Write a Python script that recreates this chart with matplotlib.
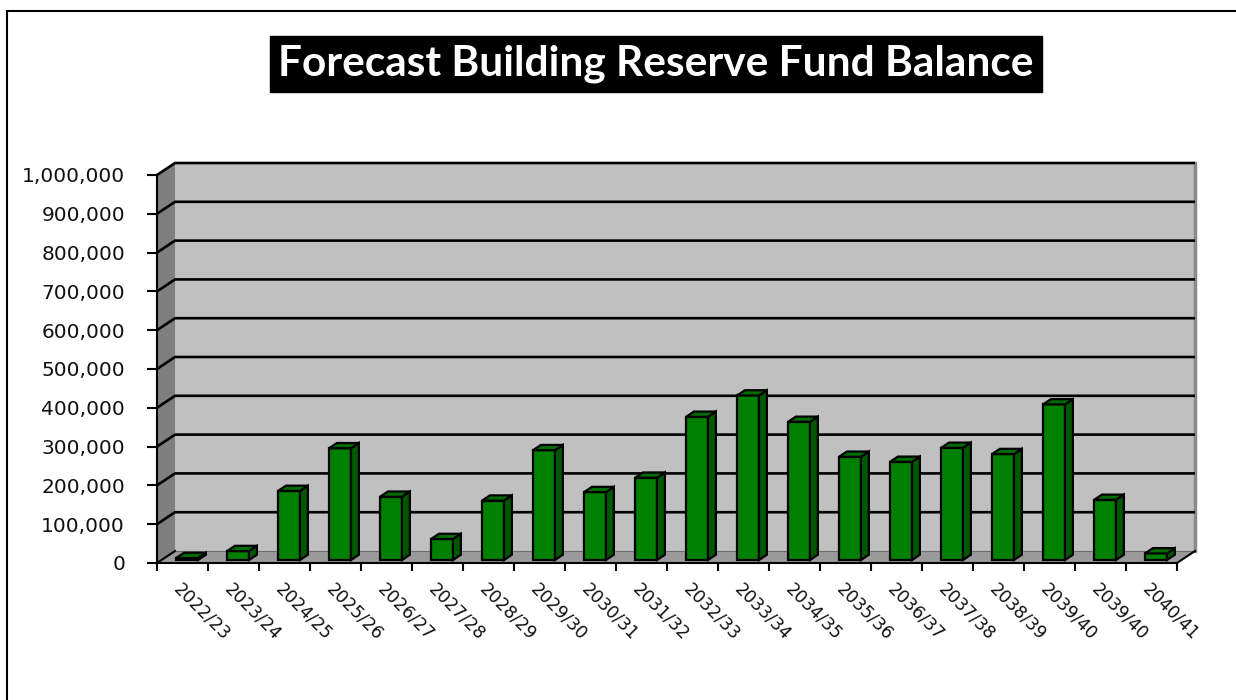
# Forecast building reserve fund balance - 3D style column chart

import matplotlib.pyplot as plt
from matplotlib.patches import Polygon
from matplotlib.lines import Line2D
from matplotlib.ticker import FuncFormatter


anos = [
    "2022/23", "2023/24", "2024/25", "2025/26", "2026/27",
    "2027/28", "2028/29", "2029/30", "2030/31", "2031/32",
    "2032/33", "2033/34", "2034/35", "2035/36", "2036/37",
    "2037/38", "2038/39", "2039/40", "2039/40", "2040/41",
]

saldo = [
    5000, 23000, 178000, 288000, 163000,
    54000, 153000, 283000, 175000, 212000,
    369000, 424000, 356000, 266000, 253000,
    289000, 273000, 401000, 155000, 17000,
]

titulo = "Forecast Building Reserve Fund Balance"

y_max = 1000000
y_passo = 100000

# profundidade do "3D" (em unidades de categoria / valor)
DX = 0.353
DY = 30900

largura = 0.43
prof_ini = 0.25
prof_fim = 0.69

verde = "#008000"
verde_lado = "#005800"
verde_topo = "#006c00"


def poly(ax, pts, cor, z, lw=0.0, borda="black"):
    p = Polygon(pts, closed=True, facecolor=cor, edgecolor=borda,
                linewidth=lw, zorder=z, clip_on=False, joinstyle="miter")
    ax.add_patch(p)


fig = plt.figure(figsize=(12.36, 7.0), dpi=100)

n = len(anos)
ax = fig.add_axes([157 / 1236, 137 / 700, 51 * (n + DX) / 1236,
                   388 * (1 + DY / y_max) / 700])
ax.set_xlim(0, n + DX)
ax.set_ylim(0, y_max + DY)
ax.patch.set_visible(False)

# -----------------------------
# Paredes e piso
# -----------------------------

# parede do fundo
poly(ax, [(DX, DY), (n + DX, DY), (n + DX, y_max + DY), (DX, y_max + DY)],
     "#c0c0c0", 1)
# parede lateral
poly(ax, [(0, 0), (DX, DY), (DX, y_max + DY), (0, y_max)], "#7f7f7f", 1)
# piso
poly(ax, [(0, 0), (n, 0), (n + DX, DY), (DX, DY)], "#9a9a9a", 2)

ax.plot([n + DX, n + DX], [DY, y_max + DY], color="#8a8a8a", lw=2.5,
        zorder=1.5, clip_on=False)
ax.plot([DX, n + DX], [DY, DY], color="#6a6a6a", lw=0.8, zorder=2.5,
        clip_on=False)

# linhas de grade
for v in range(y_passo, y_max + 1, y_passo):
    ax.plot([0, DX, n + DX], [v, v + DY, v + DY], color="black", lw=1.9,
            zorder=1.8, clip_on=False, solid_capstyle="butt")
ax.plot([0, DX], [0, DY], color="black", lw=1.5, zorder=2.6, clip_on=False)
ax.plot([n, n + DX], [0, DY], color="black", lw=1.5, zorder=2.6, clip_on=False)

# -----------------------------
# Colunas
# -----------------------------

for i, v in enumerate(saldo):
    x0 = i + 0.5 - largura / 2 + prof_ini * DX
    y0 = prof_ini * DY
    x1 = x0 + largura
    ox = (prof_fim - prof_ini) * DX
    oy = (prof_fim - prof_ini) * DY

    poly(ax, [(x0, y0), (x1, y0), (x1, y0 + v), (x0, y0 + v)],
         verde, 3, lw=1.6)
    poly(ax, [(x1, y0), (x1 + ox, y0 + oy), (x1 + ox, y0 + v + oy),
              (x1, y0 + v)], verde_lado, 3, lw=1.6)
    poly(ax, [(x0, y0 + v), (x1, y0 + v), (x1 + ox, y0 + v + oy),
              (x0 + ox, y0 + v + oy)], verde_topo, 3, lw=1.6)

# -----------------------------
# Eixos
# -----------------------------

for lado in ["top", "right"]:
    ax.spines[lado].set_visible(False)
ax.spines["left"].set_bounds(0, y_max)
ax.spines["bottom"].set_bounds(0, n)
ax.spines["left"].set_linewidth(1.5)
ax.spines["bottom"].set_linewidth(1.5)
ax.spines["left"].set_zorder(4)
ax.spines["bottom"].set_zorder(4)

ax.set_yticks(range(0, y_max + 1, y_passo))
ax.yaxis.set_major_formatter(FuncFormatter(lambda v, p: f"{v:,.0f}"))
ax.tick_params(axis="y", length=7, width=1.5, pad=16, labelsize=14.5,
               labelcolor="#111111")

ax.set_xticks(range(0, n + 1))
ax.set_xticklabels([])
ax.tick_params(axis="x", which="major", length=6, width=1.5)
ax.set_xticks([i + 0.5 for i in range(n)], minor=True)
ax.set_xticklabels(anos, minor=True, rotation=-45, ha="left", va="top",
                   rotation_mode="anchor", fontsize=12.5, color="#111111")
ax.tick_params(axis="x", which="minor", length=0, pad=12)

# -----------------------------
# Titulo e moldura
# -----------------------------

fig.text(656 / 1236, 1 - 64 / 700, titulo, ha="center", va="center",
         fontsize=30.5, fontweight="bold", family="Lato", color="white",
         bbox=dict(boxstyle="square,pad=0.2", facecolor="black",
                   edgecolor="black"))

fig.add_artist(Line2D([7 / 1236, 7 / 1236], [0, 1 - 11 / 700],
                      color="black", lw=1.5))
fig.add_artist(Line2D([7 / 1236, 1], [1 - 11 / 700, 1 - 11 / 700],
                      color="black", lw=1.5))

fig.savefig("out.png", dpi=100)
